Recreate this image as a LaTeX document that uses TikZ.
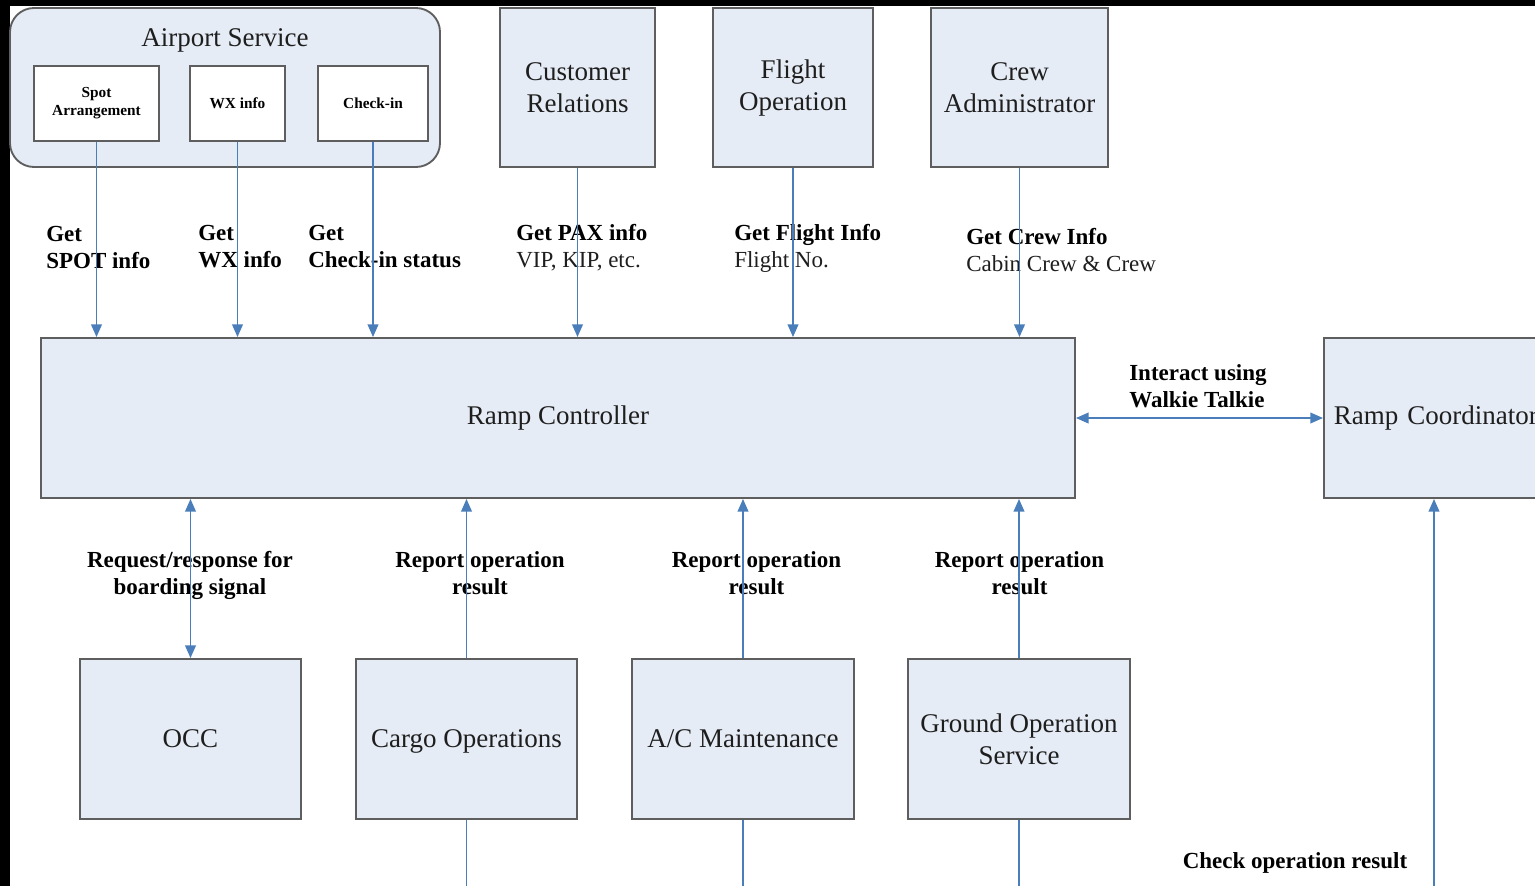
\documentclass[tikz,border=0pt]{standalone}
\usepackage{fontspec}
\setmainfont{Liberation Serif}
\usetikzlibrary{arrows.meta}
\definecolor{boxfill}{HTML}{E6ECF6}
\definecolor{boxline}{HTML}{5E5E5E}
\definecolor{arrowblue}{HTML}{4A7EBB}
\definecolor{txt}{HTML}{1E1E1E}
\tikzset{
  bigbox/.style 2 args={draw=boxline, fill=boxfill, line width=1.4pt,
    minimum width=#1*0.75pt, minimum height=#2*0.75pt, inner sep=0pt,
    align=center, text=txt, font=\fontsize{20.25}{24}\selectfont},
  smallbox/.style 2 args={draw=boxline, fill=white, line width=1.3pt,
    minimum width=#1*0.75pt, minimum height=#2*0.75pt, inner sep=0pt,
    align=center, text=black, font=\bfseries\fontsize{11.5}{13.5}\selectfont},
  lbl/.style={inner sep=0pt, text=black, font=\bfseries\fontsize{17.25}{20.25}\selectfont},
  mixlbl/.style={inner sep=0pt, text=black, font=\fontsize{17.25}{20.25}\selectfont},
  link/.style={draw=arrowblue, line width=1.25pt},
  arr/.style={link, -{Triangle[width=8pt,length=9.5pt]}},
  darr/.style={link, {Triangle[width=8pt,length=9.5pt]}-{Triangle[width=8pt,length=9.5pt]}}
}
\begin{document}
\begin{tikzpicture}[x=0.75pt,y=-0.75pt]
\useasboundingbox (0,0) rectangle (1535,886);
\clip (0,0) rectangle (1535,886);
\fill[white] (0,0) rectangle (1535,886);
\fill[black] (0,0) rectangle (10,886);
\fill[black] (0,0) rectangle (1535,6);

% Airport service group
\node[draw=boxline, fill=boxfill, line width=1.4pt, rounded corners=18pt,
      minimum width=430*0.75pt, minimum height=159*0.75pt, inner sep=0pt] (airport) at (225,87.5) {};
\node[inner sep=0pt, text=txt, font=\fontsize{20.25}{24}\selectfont] (airporttitle) at (225,40.5) {Airport Service};
\node[smallbox={125}{75}] (spot) at (96.5,103.5) {Spot\\Arrangement};
\node[smallbox={95}{75}] (wx) at (237.5,103.5) {WX info};
\node[smallbox={110}{75}] (checkin) at (373,103.5) {Check-in};

% top boxes
\node[bigbox={155}{159}] (customer) at (577.5,87.5) {Customer\\Relations};
\node[bigbox={160}{159}] (flight) at (793,87.5) {\raisebox{0pt}[\height][0pt]{Flight}\\\raisebox{0pt}[\height][0.2em]{Operation}};
\node[bigbox={177}{159}] (crew) at (1019.5,87.5) {Crew\\Administrator};

% middle
\node[bigbox={1034}{160}] (ramp) at (558,418) {Ramp Controller};
\node[bigbox={230}{160}, anchor=west, align=left, text width=210*0.75pt, inner xsep=10*0.75pt] (rc) at (1323,418) {Ramp Coordinator};

% bottom boxes
\node[bigbox={221}{160}] (occ) at (190.5,739) {OCC};
\node[bigbox={221}{160}] (cargo) at (466.5,739) {\raisebox{0pt}[\height][0pt]{Cargo Operations}};
\node[bigbox={222}{160}] (acm) at (743,739) {A/C Maintenance};
\node[bigbox={222}{160}] (ground) at (1019,739) {Ground Operation\\Service};

% labels
\node[lbl, anchor=west, align=left] (l1) at (46,247) {Get\\SPOT info};
\node[lbl, anchor=west, align=left] (l2) at (198,247) {Get\\WX info};
\node[lbl, anchor=west, align=left] (l3) at (308,247) {Get\\Check-in status};
\node[mixlbl, anchor=west, align=left] (l4) at (516,248) {\textbf{Get PAX info}\\\textcolor{txt}{VIP, KIP, etc.}};
\node[mixlbl, anchor=west, align=left] (l5) at (734,248) {\textbf{Get Flight Info}\\\textcolor{txt}{Flight No.}};
\node[mixlbl, anchor=west, align=left] (l6) at (966,250) {\textbf{Get Crew Info}\\\textcolor{txt}{Cabin Crew \& Crew}};
\node[lbl, anchor=west, align=left] (l7) at (1129,386) {Interact using\\Walkie Talkie};
\node[lbl, align=center] (l8) at (190,575) {Request/response for\\boarding signal};
\node[lbl, align=center] (l9) at (480,573) {Report operation\\result};
\node[lbl, align=center] (l10) at (756.5,573) {Report operation\\result};
\node[lbl, align=center] (l11) at (1019.5,573) {Report operation\\result};
\node[lbl] (l12) at (1295,863) {Check operation result};

% connectors
\coordinate (bottom) at (0,886);
\coordinate (rcin) at (1434,886);
\draw[arr] (spot.south) -- (spot.south |- ramp.north);
\draw[arr] (wx.south) -- (wx.south |- ramp.north);
\draw[arr] (checkin.south) -- (checkin.south |- ramp.north);
\draw[arr] (customer.south) -- (customer.south |- ramp.north);
\draw[arr] (flight.south) -- (flight.south |- ramp.north);
\draw[arr] (crew.south) -- (crew.south |- ramp.north);
\draw[darr] (ramp.east) -- (rc.west);
\draw[darr] (ramp.south -| occ.north) -- (occ.north);
\draw[arr] (cargo.north) -- (cargo.north |- ramp.south);
\draw[arr] (acm.north) -- (acm.north |- ramp.south);
\draw[arr] (ground.north) -- (ground.north |- ramp.south);
\draw[link] (cargo.south) -- (cargo.south |- bottom);
\draw[link] (acm.south) -- (acm.south |- bottom);
\draw[link] (ground.south) -- (ground.south |- bottom);
\draw[arr] (rcin) -- (rcin |- rc.south);
\end{tikzpicture}
\end{document}
